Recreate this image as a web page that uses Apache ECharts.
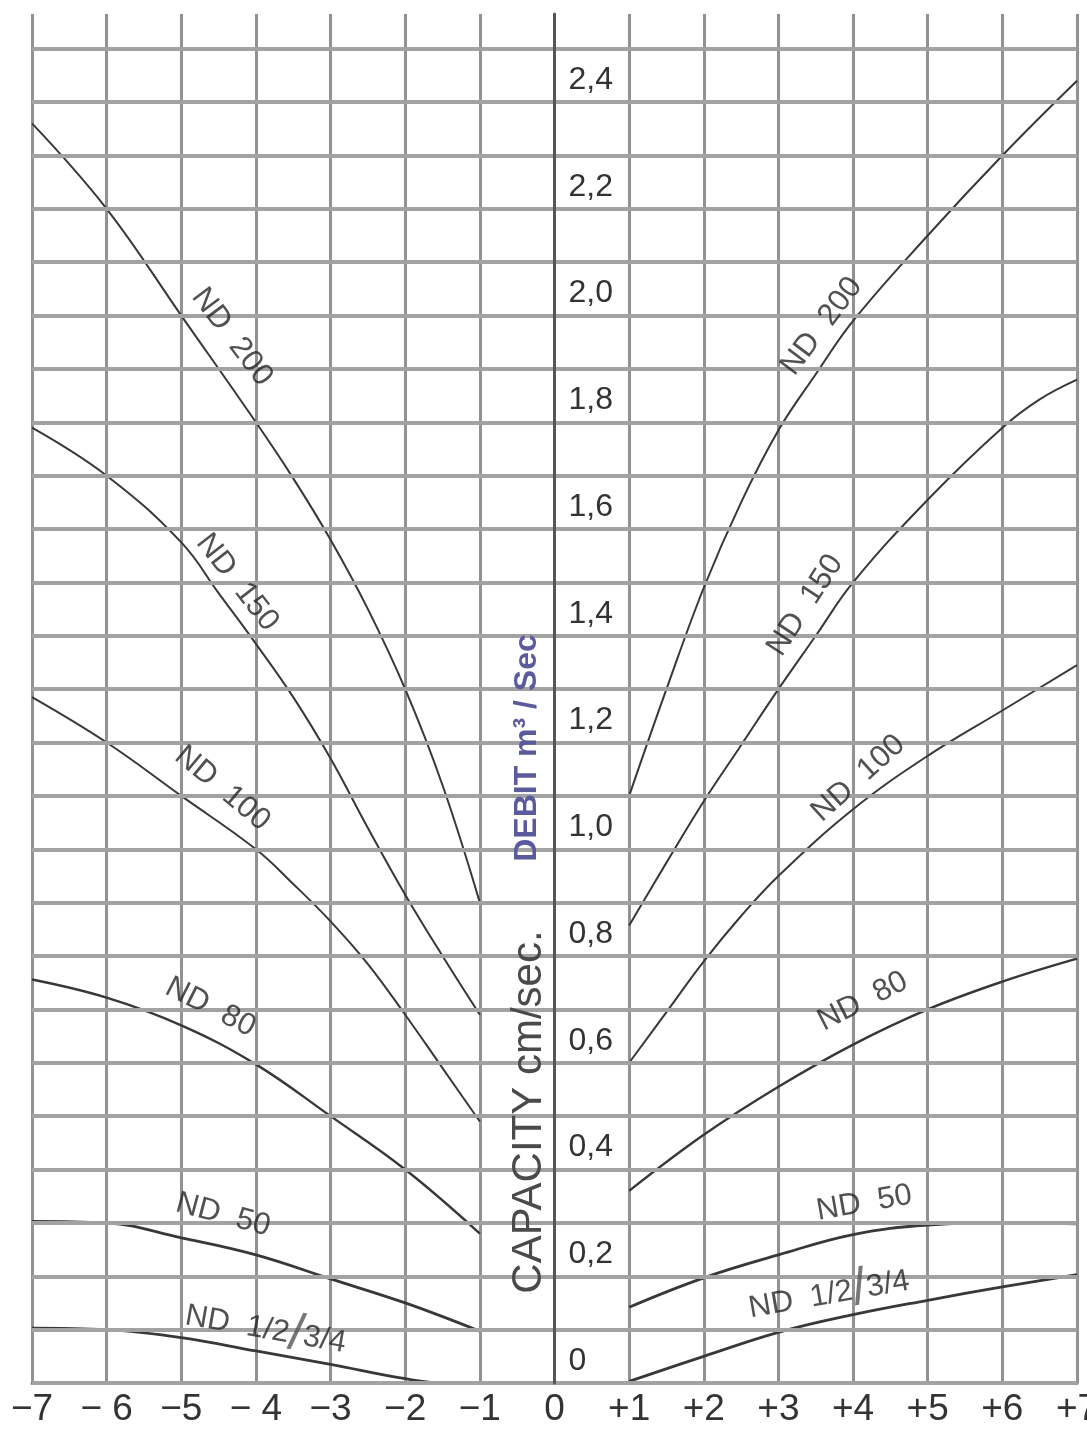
<!DOCTYPE html>
<html><head><meta charset="utf-8">
<script src="https://cdn.jsdelivr.net/npm/echarts@6/dist/echarts.min.js"></script>
<style>html,body{margin:0;padding:0;background:#fff}#c{width:1087px;height:1434px}</style>
</head><body><div id="c"></div>
<script>
// ---- data ----
const xTickLabels = ['−7','− 6','−5','− 4','−3','−2','−1','0','+1','+2','+3','+4','+5','+6','+7'];
const yGridValues = [0,0.1,0.2,0.3,0.4,0.5,0.6,0.7,0.8,0.9,1.0,1.1,1.2,1.3,1.4,1.5,1.6,1.7,1.8,1.9,2.0,2.1,2.2,2.3,2.4,2.5];

const nd200L = [[-7,2.36],[-6,2.2],[-5,2.0],[-4,1.8],[-3.5,1.695],[-3,1.58],[-2.5,1.45],[-2,1.3],[-1.5,1.12],[-1,0.9]];
const nd150L = [[-7,1.79],[-6,1.70],[-5,1.575],[-4.5,1.48],[-4,1.385],[-3.5,1.285],[-3,1.17],[-2.5,1.04],[-2,0.915],[-1.5,0.80],[-1,0.69]];
const nd100L = [[-7,1.285],[-6,1.2],[-5,1.1],[-4,1.0],[-3.5,0.935],[-3,0.865],[-2.5,0.785],[-2,0.69],[-1.5,0.59],[-1,0.49]];
const nd80L  = [[-7,0.756],[-6,0.722],[-5,0.67],[-4,0.597],[-3,0.50],[-2,0.40],[-1,0.28]];
const nd50L  = [[-7,0.303],[-6,0.30],[-5,0.272],[-4,0.24],[-3,0.195],[-2,0.15],[-1,0.097]];
const nd12L  = [[-7,0.103],[-6,0.10],[-5,0.085],[-4,0.06],[-3,0.035],[-2,0.008],[-1.5,0],[-1,0]];

const nd200R = [[1,1.10],[1.5,1.30],[2,1.49],[2.5,1.65],[3,1.785],[3.5,1.89],[4,1.99],[5,2.15],[6,2.30],[7,2.44]];
const nd150R = [[1,0.857],[1.5,0.975],[2,1.09],[2.5,1.195],[3,1.30],[3.5,1.40],[4,1.50],[5,1.655],[6,1.79],[6.5,1.843],[7,1.88]];
const nd100R = [[1,0.60],[1.5,0.695],[2,0.79],[2.5,0.875],[3,0.95],[4,1.075],[5,1.175],[6,1.26],[7,1.345]];
const nd80R  = [[1,0.36],[2,0.465],[3,0.555],[4,0.634],[5,0.70],[6,0.752],[7,0.795]];
const nd50R  = [[1,0.142],[2,0.197],[3,0.24],[4,0.278],[5,0.296],[6,0.30],[7,0.298]];
const nd12R  = [[1,0.003],[2,0.05],[3,0.095],[4,0.128],[5,0.155],[6,0.18],[7,0.203]];

const curveLabelText = ['ND  200','ND  150','ND  100','ND  80','ND  50','ND  1/2{s|/}3/4',
                        'ND  200','ND  150','ND  100','ND  80','ND  50','ND  1/2{s|/}3/4'];
const curveLabelAnchor = [[-4.32,1.96],[-4.25,1.50],[-4.45,1.114],[-4.61,0.704],[-4.44,0.315],[-3.87,0.10],
                          [3.58,1.98],[3.36,1.457],[4.07,1.133],[4.13,0.715],[4.15,0.337],[3.68,0.165]];
const curveLabelAngle = [-53,-52,-40,-27,-15,-10, 53,57,42,27,10,10];

const titleDebit = 'DEBIT m³ / Sec';
const titleCapacity = 'CAPACITY cm/sec.';

// ---- chart ----
const NARROW = "'Liberation Sans Narrow','Arial Narrow','Liberation Sans',Arial,sans-serif";
const GRID = {left:32, right:10, top:14, bottom:51};
const X_MIN = -7, X_MAX = 7;
const chartW = 1087;
const gridW = chartW - GRID.left - GRID.right;
const yAxisOffset = -(0 - X_MIN) / (X_MAX - X_MIN) * gridW;

const chart = echarts.init(document.getElementById('c'));
const curves = [nd200L,nd150L,nd100L,nd80L,nd50L,nd12L,nd200R,nd150R,nd100R,nd80R,nd50R,nd12R];
const widths = [2,2,2,2.4,2.8,2.8,2,2,2,2.4,2.8,2.8];

const series = curves.map((d,i)=>({
  type:'line', data:d, smooth:0.4, showSymbol:false, silent:true, z:4,
  lineStyle:{color:'#383838', width:widths[i]}
}));

series.push({
  type:'line', data:[], silent:true, z:2,
  markLine:{silent:true, symbol:['none','none'], label:{show:false},
    lineStyle:{color:'#a2a2a2', width:4, type:'solid'},
    data: yGridValues.map(v=>({yAxis:v}))}
});

series.push({
  type:'scatter', silent:true, z:5, symbolSize:1, itemStyle:{color:'rgba(0,0,0,0)'},
  data: curveLabelAnchor.map((p,i)=>({value:p,
    label:{show:true, position:'inside', rotate:curveLabelAngle[i], formatter:curveLabelText[i],
      fontFamily:NARROW, fontSize:31, color:'#262626',
      rich:{s:{fontSize:52, fontFamily:NARROW, fontWeight:'lighter', color:'#555'}}}}))
});

chart.setOption({
  backgroundColor:'#fff',
  animation:false,
  grid:Object.assign({containLabel:false, outerBoundsMode:'none'}, GRID),
  xAxis:{type:'value', min:X_MIN, max:X_MAX, interval:1,
    axisLine:{show:true, onZero:false, lineStyle:{color:'#8a8a8a', width:3}},
    axisTick:{show:false},
    axisLabel:{margin:8, fontFamily:NARROW, fontSize:37, color:'#333',
      formatter:v=>xTickLabels[Math.round(v)+7]},
    splitLine:{show:true, lineStyle:{color:'#929292', width:3}}
  },
  yAxis:{type:'value', min:0, max:2.565, interval:0.1, z:6, position:'left', offset:yAxisOffset,
    axisLine:{show:true, onZero:false, lineStyle:{color:'#555', width:3}},
    axisTick:{show:false},
    splitLine:{show:false},
    axisLabel:{inside:true, margin:14, verticalAlign:'bottom', padding:[0,0,6,0],
      fontFamily:NARROW, fontSize:32, color:'#333',
      formatter:v=>{const k=Math.round(v*10); if(k%2||k>24) return ''; return k===0?'0':(k/10).toFixed(1).replace('.',',');}}
  },
  graphic:[
    {type:'text', x:527, y:748, rotation:Math.PI/2, z:10,
      style:{text:titleDebit, fill:'#5a5a9c', font:"bold 32px 'Liberation Sans',Arial,sans-serif", textAlign:'center', textVerticalAlign:'middle'}},
    {type:'text', x:529, y:1112, rotation:Math.PI/2, z:10,
      style:{text:titleCapacity, fill:'#4a4a4a', font:"42px 'Liberation Sans',Arial,sans-serif", textAlign:'center', textVerticalAlign:'middle'}}
  ],
  series:series
});
</script>
</body></html>
